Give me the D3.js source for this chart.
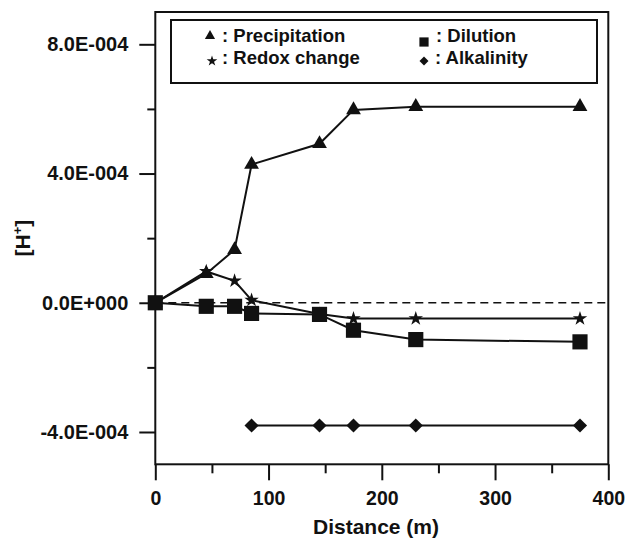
<!DOCTYPE html>
<html>
<head>
<meta charset="utf-8">
<script src="https://cdn.jsdelivr.net/npm/d3@7"></script>
<style>
  body { margin: 0; background: #fff; }
  text { font-family: "Liberation Sans", Arial, sans-serif; font-weight: bold; fill: #111; }
</style>
</head>
<body>
<script>
// distances (m) and [H+] contributions
const distance = [0, 45, 70, 85, 145, 175, 230, 375];
const precipitation = [0, 0.9e-4, 1.64e-4, 4.28e-4, 4.92e-4, 5.97e-4, 6.07e-4, 6.07e-4];
const redox = [0, 0.97e-4, 0.68e-4, 0.08e-4, -0.35e-4, -0.49e-4, -0.49e-4, -0.49e-4];
const dilution = [0, -0.11e-4, -0.11e-4, -0.33e-4, -0.36e-4, -0.85e-4, -1.14e-4, -1.21e-4];
const alkDistance = [85, 145, 175, 230, 375];
const alkalinity = [-3.8e-4, -3.8e-4, -3.8e-4, -3.8e-4, -3.8e-4];

const xMajor = [0, 100, 200, 300, 400];
const xMinor = [50, 150, 250, 350];
const yMajor = [-4e-4, 0, 4e-4, 8e-4];
const yMajorLabels = ["-4.0E-004", "0.0E+000", "4.0E-004", "8.0E-004"];
const yMinor = [-2e-4, 2e-4, 6e-4];

const width = 627, height = 538;
const svg = d3.select("body").append("svg").attr("width", width).attr("height", height);

const x = d3.scaleLinear().domain([0, 400]).range([155.3, 608.3]);
const y = d3.scaleLinear().domain([-5e-4, 9e-4]).range([464.3, 12]);

// y axis
const yAxis = d3.axisLeft(y).tickValues(yMajor).tickSize(16).tickPadding(11)
  .tickFormat((d, i) => yMajorLabels[i]);
const gy = svg.append("g").attr("transform", `translate(${x(0)},0)`).call(yAxis);
gy.select(".domain").remove();
gy.selectAll("text").style("font-size", "20px");
const gy2 = svg.append("g").attr("transform", `translate(${x(0)},0)`)
  .call(d3.axisLeft(y).tickValues(yMinor).tickSize(8).tickFormat(""));
gy2.select(".domain").remove();

// x axis
const xAxis = d3.axisBottom(x).tickValues(xMajor).tickSize(16).tickPadding(11);
const gx = svg.append("g").attr("transform", `translate(0,${y(-5e-4)})`).call(xAxis);
gx.select(".domain").remove();
gx.selectAll("text").style("font-size", "19.5px");
const gx2 = svg.append("g").attr("transform", `translate(0,${y(-5e-4)})`)
  .call(d3.axisBottom(x).tickValues(xMinor).tickSize(9).tickFormat(""));
gx2.select(".domain").remove();
svg.selectAll(".tick line").attr("stroke", "#111").attr("stroke-width", 2);

// frame
svg.append("rect")
  .attr("x", x(0)).attr("y", y(9e-4))
  .attr("width", x(400) - x(0)).attr("height", y(-5e-4) - y(9e-4))
  .attr("fill", "none").attr("stroke", "#111").attr("stroke-width", 2);

// zero line
svg.append("line")
  .attr("x1", x(0)).attr("x2", x(400)).attr("y1", y(0)).attr("y2", y(0))
  .attr("stroke", "#111").attr("stroke-width", 1.5).attr("stroke-dasharray", "8,5");

// axis titles
svg.append("text").attr("x", 376).attr("y", 534).attr("text-anchor", "middle")
  .style("font-size", "21px").text("Distance (m)");
const yt = svg.append("text").attr("transform", "translate(30,238) rotate(-90)")
  .attr("text-anchor", "middle").style("font-size", "21px");
yt.append("tspan").text("[H");
yt.append("tspan").attr("dy", -8).style("font-size", "13px").text("+");
yt.append("tspan").attr("dy", 8).text("]");

const line = d3.line().x(d => x(d[0])).y(d => y(d[1]));

function series(xs, ys, type, size, rot) {
  const pts = xs.map((d, i) => [d, ys[i]]);
  svg.append("path").datum(pts).attr("d", line)
    .attr("fill", "none").attr("stroke", "#111").attr("stroke-width", 2);
  svg.append("g").selectAll("path").data(pts).enter().append("path")
    .attr("d", d3.symbol().type(type).size(size))
    .attr("transform", d => `translate(${x(d[0])},${y(d[1])}) rotate(${rot})`)
    .attr("fill", "#111");
}

series(distance, precipitation, d3.symbolTriangle, 95, 0);
series(distance, redox, d3.symbolStar, 65, 0);
series(alkDistance, alkalinity, d3.symbolSquare, 100, 45);
series(distance, dilution, d3.symbolSquare, 230, 0);

// legend
svg.append("rect").attr("x", 171).attr("y", 20).attr("width", 426).attr("height", 63)
  .attr("fill", "#fff").attr("stroke", "#111").attr("stroke-width", 2);
const legendItems = [
  { label: ": Precipitation", type: d3.symbolTriangle, size: 45, rot: 0, sx: 210, sy: 36, tx: 222, ty: 42 },
  { label: ": Dilution", type: d3.symbolSquare, size: 85, rot: 0, sx: 424, sy: 42, tx: 436, ty: 42 },
  { label: ": Redox change", type: d3.symbolStar, size: 35, rot: 0, sx: 212, sy: 61, tx: 222, ty: 64 },
  { label: ": Alkalinity", type: d3.symbolSquare, size: 40, rot: 45, sx: 424, sy: 61, tx: 435, ty: 64 }
];
legendItems.forEach(it => {
  svg.append("path").attr("d", d3.symbol().type(it.type).size(it.size))
    .attr("transform", `translate(${it.sx},${it.sy}) rotate(${it.rot})`).attr("fill", "#111");
  svg.append("text").attr("x", it.tx).attr("y", it.ty).style("font-size", "18.5px").text(it.label);
});
</script>
</body>
</html>
